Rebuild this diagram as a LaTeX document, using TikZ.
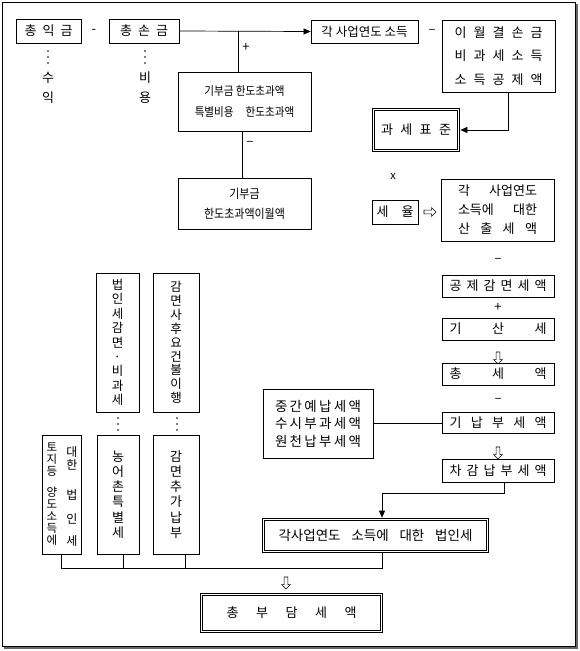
\documentclass[tikz,border=0pt]{standalone}
\usepackage{fontspec}
\setmainfont{Noto Sans CJK KR}
\newfontfamily\narrowkr[FakeStretch=0.88]{Noto Sans CJK KR}
\usetikzlibrary{arrows.meta,shapes.arrows}
\newcommand\spr[2]{\makebox[#1][s]{#2}}

\begin{document}
\begin{tikzpicture}[x=1pt, y=-1pt, line width=0.7pt, font=\fontsize{13}{15}\selectfont,
  box/.style={draw, line width=0.8pt, inner sep=0pt, align=center},
  dbox/.style={draw, line width=0.7pt, double, double distance=1.6pt, inner sep=0pt, align=center},
  sign/.style={inner sep=0pt},
  hollow/.style={single arrow, draw, line width=0.6pt, inner sep=1.6pt, minimum height=12pt,
    single arrow head extend=2.4pt, single arrow head indent=0pt},
  >={Triangle[length=7pt,width=6pt]}]
\useasboundingbox (0,0) rectangle (580,651);
\draw[line width=0.8pt] (2,2) rectangle (575,646);
\draw[line width=1.4pt, black!60] (577,4) -- (577,648) -- (4,648);

\node[box, minimum width=65pt, minimum height=24pt] (ik) at (48.5,31) {\spr{48pt}{총 익 금}};
\node[box, minimum width=70pt, minimum height=24pt] (son) at (144,31) {\spr{48pt}{총 손 금}};
\node[box, minimum width=107pt, minimum height=23pt, font=\fontsize{12.5}{15}\selectfont] (sodeuk) at (364.5,31.5) {각 사업연도 소득};
\node[box, minimum width=113pt, minimum height=72pt, font=\fontsize{13}{23.5}\selectfont] (gongje) at (498.5,56)
  {\spr{88pt}{이 월 결 손 금}\\\spr{88pt}{비 과 세 소 득}\\\spr{88pt}{소 득 공 제 액}};
\node[box, minimum width=133pt, minimum height=59pt, font=\narrowkr\fontsize{12}{21}\selectfont] (gibu1) at (244.5,101.5)
  {기부금 한도초과액\\특별비용\quad 한도초과액};
\node[box, minimum width=133pt, minimum height=51pt, font=\narrowkr\fontsize{12.5}{20}\selectfont] (gibu2) at (244.5,203.5)
  {기부금\\한도초과액이월액};
\node[dbox, minimum width=85pt, minimum height=41pt] (gwase) at (416,130) {\spr{70pt}{과 세 표 준}};
\node[box, minimum width=46pt, minimum height=24pt] (seyul) at (395,212) {\spr{37pt}{세 율}};
\node[box, minimum width=113pt, minimum height=62pt, font=\fontsize{13}{19}\selectfont] (sanchul) at (497.5,210)
  {\spr{79pt}{각 사업연도}\\\spr{79pt}{소득에 대한}\\\spr{79pt}{산 출 세 액}};
\node[box, minimum width=112pt, minimum height=22pt] (gonggam) at (498,286) {\spr{97pt}{공 제 감 면 세 액}};
\node[box, minimum width=112pt, minimum height=22pt] (gasan) at (498,329) {\spr{97pt}{기 산 세}};
\node[box, minimum width=112pt, minimum height=22pt] (chong) at (498,374) {\spr{97pt}{총 세 액}};
\node[box, minimum width=112pt, minimum height=21pt] (ginap) at (498,422.5) {\spr{97pt}{기 납 부 세 액}};
\node[box, minimum width=112pt, minimum height=23pt] (chagam) at (498,470.5) {\spr{97pt}{차 감 납 부 세 액}};
\node[box, minimum width=110pt, minimum height=69pt, font=\fontsize{13.5}{17.5}\selectfont] (junggan) at (318,423.5)
  {\spr{86pt}{중 간 예 납 세 액}\\\spr{86pt}{수 시 부 과 세 액}\\\spr{86pt}{원 천 납 부 세 액}};
\node[dbox, minimum width=224pt, minimum height=32pt, font=\fontsize{13.5}{15}\selectfont] (beob) at (375.5,535.5)
  {\spr{194pt}{각사업연도 소득에 대한 법인세}};
\node[dbox, minimum width=180pt, minimum height=37pt] (chongbu) at (291.5,613) {\spr{130pt}{총 부 담 세 액}};

\node[box, minimum width=43pt, minimum height=139pt, font=\fontsize{12.5}{14.4}\selectfont] (gam1) at (117.5,342.5)
  {법\\인\\세\\감\\면\\·\\비\\과\\세};
\node[box, minimum width=46pt, minimum height=139pt, font=\fontsize{12.5}{13.8}\selectfont] (gam2) at (176,342.5)
  {감\\면\\사\\후\\요\\건\\불\\이\\행};
\node[box, minimum width=39pt, minimum height=119pt] (toji) at (61.5,494.5) {};
\node[box, minimum width=42pt, minimum height=119pt, font=\fontsize{13}{15.2}\selectfont] (nong) at (118,494.5)
  {농\\어\\촌\\특\\별\\세};
\node[box, minimum width=46pt, minimum height=119pt, font=\fontsize{13}{15.2}\selectfont] (gamchu) at (176,494.5)
  {감\\면\\추\\가\\납\\부};
\node[inner sep=0pt, align=center, font=\fontsize{11.5}{12}\selectfont] (tojiL) at (52,494.5)
  {토\\지\\등\\[9pt]양\\도\\소\\득\\에};
\node[inner sep=0pt, align=center, font=\fontsize{12}{13}\selectfont] (tojiR) at (72,496)
  {대\\한\\[17pt]법\\[11pt]인\\[9pt]세};

\node[sign, align=center, font=\fontsize{13}{20}\selectfont] (suik) at (48,88) {수\\익};
\node[sign, align=center, font=\fontsize{13}{20}\selectfont] (biyong) at (145,88) {비\\용};
\foreach \x/\y in {48/57, 145/57, 118/424, 177/424}
  \foreach \d in {-6,0,6}
    \fill (\x,\y+\d) circle (0.9pt);

\node[sign] (m1) at (94,31) {-};
\node[sign] (m2) at (432,31) {–};
\node[sign] (p1) at (246,47) {+};
\node[sign] (m3) at (250,143) {–};
\node[sign, font=\fontsize{11}{13}\selectfont] (times) at (393,177) {x};
\node[sign] (m4) at (498,260) {–};
\node[sign] (p2) at (498,307) {+};
\node[sign] (m5) at (498,400) {–};

\node[hollow] (toSan) at (429,212) {};
\node[hollow, shape border rotate=270] (dn1) at (498,357) {};
\node[hollow, shape border rotate=270] (dn2) at (498,452) {};
\node[hollow, shape border rotate=270] (dn3) at (286,582) {};

\coordinate (split) at (238,31);
\draw[->] (son.east) -- (sodeuk.west);
\draw (split) -- (split |- gibu1.north);
\draw ([xshift=-2.5pt]gibu1.south) -- ([xshift=-2.5pt]gibu2.north);
\draw[->] ([xshift=9.5pt]gongje.south) |- ([xshift=1.5pt]gwase.east);
\draw (junggan.east) -- (junggan.east -| ginap.west);
\draw[->] ([xshift=6pt]chagam.south) -- ++(0,11) -| ([xshift=6.5pt,yshift=1.5pt]beob.north);
\draw (toji.south) -- ++(0,14) -| ([xshift=6.5pt,yshift=-1.5pt]beob.south);
\draw ([xshift=5pt]nong.south) -- ++(0,14);
\draw ([xshift=9pt]gamchu.south) -- ++(0,14);
\end{tikzpicture}
\end{document}
